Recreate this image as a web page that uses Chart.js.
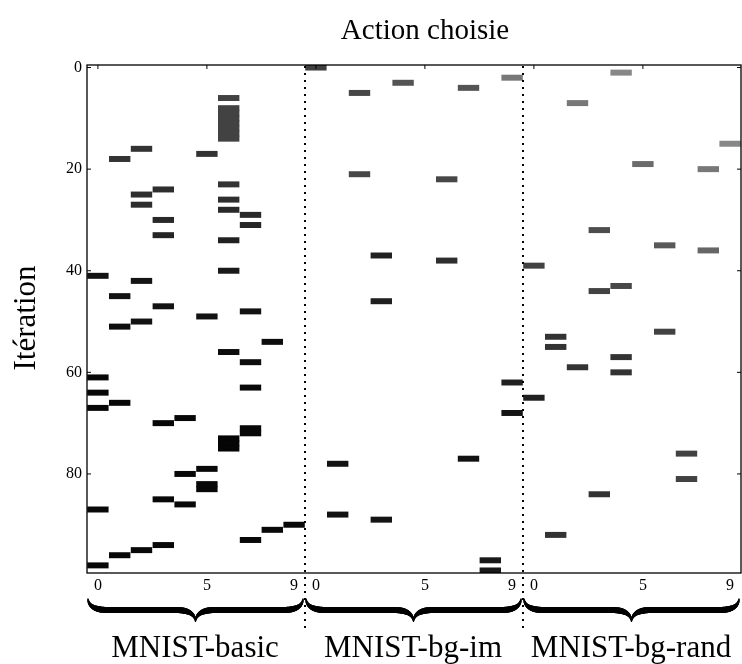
<!DOCTYPE html>
<html>
<head>
<meta charset="utf-8">
<script src="https://cdn.jsdelivr.net/npm/chart.js@4.4.1/dist/chart.umd.min.js"></script>
<style>
html, body { margin: 0; padding: 0; background: #fff; }
canvas { display: block; }
</style>
</head>
<body>
<canvas id="ChartElem" width="742" height="664"></canvas>
<script>
// 3 datasets x 10 actions = 30 columns, 100 iterations (rows)
var datasetNames = ["MNIST-basic", "MNIST-bg-im", "MNIST-bg-rand"];
var actionsPerDataset = 10;

// action chosen at each iteration (column index 0..29)
var chosenAction = [
    10, 24, 19, 14, 17, 12, 6, 22, 6, 6,
    6, 6, 6, 6, 6, 29, 2, 5, 1, 25,
    28, 12, 16, 6, 3, 2, 6, 2, 6, 7,
    3, 7, 23, 3, 6, 26, 28, 13, 16, 20,
    6, 0, 2, 24, 23, 1, 13, 3, 7, 5,
    2, 1, 26, 21, 8, 21, 6, 24, 7, 22,
    24, 0, 19, 7, 0, 20, 1, 0, 19, 4,
    3, 7, 7, 6, 6, 6, 27, 17, 11, 5,
    4, 27, 5, 5, 23, 3, 4, 0, 11, 13,
    9, 8, 21, 7, 3, 2, 1, 18, 0, 18
];

// intensity of the chosen cell (1 = black)
var choiceStrength = [
    0.75, 0.47, 0.53, 0.67, 0.67, 0.72, 0.74, 0.53, 0.74, 0.74,
    0.74, 0.74, 0.74, 0.74, 0.74, 0.47, 0.80, 0.80, 0.80, 0.58,
    0.53, 0.72, 0.72, 0.80, 0.82, 0.82, 0.82, 0.82, 0.84, 0.84,
    0.84, 0.85, 0.70, 0.86, 0.87, 0.65, 0.60, 0.87, 0.82, 0.74,
    0.90, 0.93, 0.92, 0.72, 0.74, 0.93, 0.88, 0.93, 0.93, 0.93,
    0.93, 0.95, 0.74, 0.80, 0.95, 0.80, 0.95, 0.80, 0.95, 0.80,
    0.80, 0.97, 0.87, 0.97, 0.97, 0.87, 0.97, 0.97, 0.92, 0.97,
    0.97, 0.97, 0.97, 0.98, 0.98, 0.98, 0.74, 0.93, 0.93, 0.97,
    0.97, 0.74, 0.97, 0.97, 0.80, 0.97, 0.97, 0.97, 0.93, 0.92,
    0.97, 0.97, 0.80, 0.97, 0.97, 0.97, 0.97, 0.90, 0.97, 0.90
];

var xTickValues = [0, 5, 9, 10, 15, 19, 20, 25, 29];
var xTickLabels = ["0", "5", "9", "0", "5", "9", "0", "5", "9"];
var topTickValues = [0, 5, 10, 15, 20, 25];
var yTickValues = [0, 20, 40, 60, 80];
var groupBoundaries = [9.5, 19.5];

var serif = "'Liberation Serif', 'DejaVu Serif', serif";

function ShadeFor(s) {
    var g = Math.round(255 * (1 - s));
    return "rgb(" + g + "," + g + "," + g + ")";
}

var barData = [];
var barColours = [];
for (let i = 0; i < chosenAction.length; i++) {
    barData.push({ x: [chosenAction[i] - 0.47, chosenAction[i] + 0.47], y: i });
    barColours.push(ShadeFor(choiceStrength[i]));
}

// variable width stroke along sampled points
function StrokeVarying(ctx, pts) {
    ctx.lineCap = "round";
    for (let i = 1; i < pts.length; i++) {
        ctx.beginPath();
        ctx.lineWidth = (pts[i - 1].w + pts[i].w) / 2;
        ctx.moveTo(pts[i - 1].x, pts[i - 1].y);
        ctx.lineTo(pts[i].x, pts[i].y);
        ctx.stroke();
    }
}

function Quad(p0, c, p1, t) {
    var u = 1 - t;
    return u * u * p0 + 2 * u * t * c + t * t * p1;
}

function DrawBrace(ctx, x0, x1, yTop, yArm, yTip, thick) {
    var xc = (x0 + x1) / 2;
    var curl = 20;
    [1, -1].forEach(function (dir) {
        var sx = dir === 1 ? x0 : x1;
        var pts = [];
        var n = 24;
        // end curl
        for (let k = 0; k <= n; k++) {
            var t = k / n;
            pts.push({
                x: Quad(sx, sx + dir * 1, sx + dir * curl, t),
                y: Quad(yTop, yArm, yArm, t),
                w: 1.2 + (thick - 1.2) * Math.min(1, t * 1.4)
            });
        }
        // straight arm
        pts.push({ x: xc - dir * curl, y: yArm, w: thick });
        // tip
        for (let k = 1; k <= n; k++) {
            var t2 = k / n;
            pts.push({
                x: Quad(xc - dir * curl, xc - dir * 1, xc, t2),
                y: Quad(yArm, yArm, yTip, t2),
                w: thick - (thick - 1) * Math.max(0, (t2 - 0.3) / 0.7)
            });
        }
        StrokeVarying(ctx, pts);
    });
}

var framePlugin = {
    id: "frame",
    afterDraw: function (chart) {
        var ctx = chart.ctx;
        var area = chart.chartArea;
        var xs = chart.scales.x;
        var ys = chart.scales.y;
        ctx.save();
        ctx.strokeStyle = "#000";
        ctx.fillStyle = "#000";

        // axes frame
        ctx.lineWidth = 1.3;
        ctx.strokeRect(area.left, area.top, area.right - area.left, area.bottom - area.top);

        // inward ticks
        ctx.lineWidth = 1;
        ctx.beginPath();
        for (let i = 0; i < yTickValues.length; i++) {
            var py = ys.getPixelForValue(yTickValues[i]);
            ctx.moveTo(area.left, py); ctx.lineTo(area.left + 4, py);
            ctx.moveTo(area.right, py); ctx.lineTo(area.right - 4, py);
        }
        for (let i = 0; i < topTickValues.length; i++) {
            var px = xs.getPixelForValue(topTickValues[i]);
            ctx.moveTo(px, area.top); ctx.lineTo(px, area.top + 4);
        }
        ctx.stroke();

        // dotted separators between datasets
        ctx.setLineDash([2, 5]);
        ctx.lineWidth = 2;
        for (let i = 0; i < groupBoundaries.length; i++) {
            var bx = xs.getPixelForValue(groupBoundaries[i]);
            ctx.beginPath();
            ctx.moveTo(bx, area.top + 1);
            ctx.lineTo(bx, 632);
            ctx.stroke();
        }
        ctx.setLineDash([]);

        // braces + dataset names
        ctx.font = "31px " + serif;
        ctx.textAlign = "center";
        ctx.textBaseline = "alphabetic";
        for (let g = 0; g < datasetNames.length; g++) {
            var gl = xs.getPixelForValue(g * actionsPerDataset - 0.5);
            var gr = xs.getPixelForValue((g + 1) * actionsPerDataset - 0.5);
            DrawBrace(ctx, gl + 1, gr - 2, 599, 610, 621.5, 6);
            ctx.fillText(datasetNames[g], (gl + gr) / 2 - 1, 657);
        }

        // title
        ctx.font = "29px " + serif;
        ctx.fillText("Action choisie", 425, 39);

        // y axis title
        ctx.save();
        ctx.translate(35, 318);
        ctx.rotate(-Math.PI / 2);
        ctx.font = "31px " + serif;
        ctx.textBaseline = "alphabetic";
        ctx.fillText("Itération", 0, 0);
        ctx.restore();

        ctx.restore();
    }
};

function BuildChart() {
    var chartContext = document.getElementById("ChartElem").getContext("2d");
    var chart = new Chart(chartContext, {
        type: "bar",
        data: {
            datasets: [{
                data: barData,
                backgroundColor: barColours,
                borderWidth: 0,
                barPercentage: 1,
                categoryPercentage: 1,
                inflateAmount: 0.45
            }]
        },
        options: {
            indexAxis: "y",
            responsive: false,
            animation: false,
            devicePixelRatio: 1,
            layout: { padding: { top: 65, right: 1, left: 0, bottom: 0 } },
            plugins: { legend: { display: false }, tooltip: { enabled: false } },
            scales: {
                x: {
                    type: "linear",
                    offset: false,
                    min: -0.5,
                    max: 29.5,
                    grid: { display: false, drawTicks: false },
                    border: { display: false },
                    afterBuildTicks: function (axis) {
                        axis.ticks = xTickValues.map(function (v) { return { value: v }; });
                    },
                    afterFit: function (axis) { axis.height = 91; },
                    ticks: {
                        autoSkip: false,
                        maxRotation: 0,
                        padding: 3,
                        color: "#000",
                        font: { family: serif, size: 16 },
                        callback: function (v) { return xTickLabels[xTickValues.indexOf(v)]; }
                    }
                },
                y: {
                    type: "linear",
                    offset: false,
                    reverse: true,
                    min: -0.5,
                    max: 99.5,
                    grid: { display: false, drawTicks: false },
                    border: { display: false },
                    afterBuildTicks: function (axis) {
                        axis.ticks = yTickValues.map(function (v) { return { value: v }; });
                    },
                    afterFit: function (axis) { axis.width = 87; },
                    ticks: {
                        padding: 5,
                        color: "#000",
                        font: { family: serif, size: 16 }
                    }
                }
            }
        },
        plugins: [framePlugin]
    });
    return chart;
}

BuildChart();
</script>
</body>
</html>
